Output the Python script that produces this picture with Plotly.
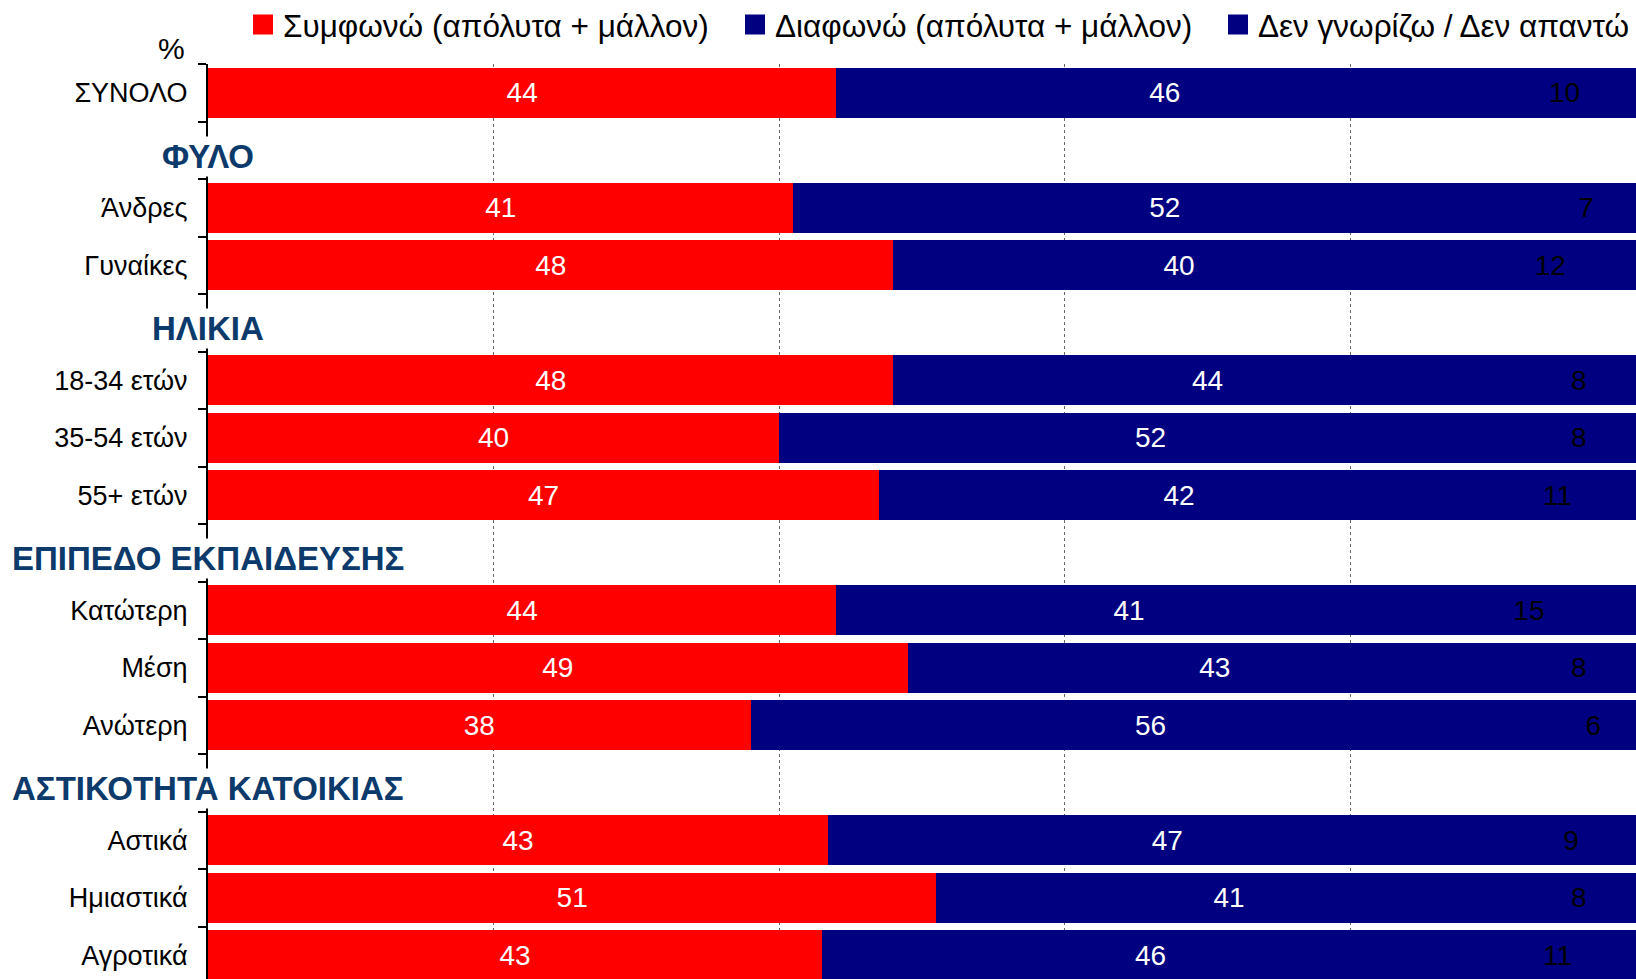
import plotly.graph_objects as go

# ---- data ----
categories = ["ΣΥΝΟΛΟ", " ", "Άνδρες", "Γυναίκες", "  ", "18-34 ετών", "35-54 ετών",
              "55+ ετών", "   ", "Κατώτερη", "Μέση", "Ανώτερη", "    ", "Αστικά",
              "Ημιαστικά", "Αγροτικά"]
rows = ["ΣΥΝΟΛΟ", "Άνδρες", "Γυναίκες", "18-34 ετών", "35-54 ετών", "55+ ετών",
        "Κατώτερη", "Μέση", "Ανώτερη", "Αστικά", "Ημιαστικά", "Αγροτικά"]
agree = [44, 41, 48, 48, 40, 47, 44, 49, 38, 43, 51, 43]
disagree = [46, 52, 40, 44, 52, 42, 41, 43, 56, 47, 41, 46]
dont_know = [10, 7, 12, 8, 8, 11, 15, 8, 6, 9, 8, 11]
series_names = ["Συμφωνώ (απόλυτα + μάλλον)", "Διαφωνώ (απόλυτα + μάλλον)",
                "Δεν γνωρίζω / Δεν απαντώ"]
group_headers = {" ": "ΦΥΛΟ", "  ": "ΗΛΙΚΙΑ", "   ": "ΕΠΙΠΕΔΟ ΕΚΠΑΙΔΕΥΣΗΣ",
                 "    ": "ΑΣΤΙΚΟΤΗΤΑ ΚΑΤΟΙΚΙΑΣ"}

RED = "#FF0000"
NAVY = "#000080"
HEADER = "#0B3A6B"
FONT = "Liberation Sans, Arial, sans-serif"

W, H = 1636, 979
ML, MT = 208, 64
PW, PH = W - ML, H - MT

def px_x(px):
    return (px - ML) / PW

def px_y(py):
    return 1 + (MT - py) / PH

fig = go.Figure()
series = [(agree, RED, "white"), (disagree, NAVY, "white"), (dont_know, NAVY, "black")]
for (vals, col, tcol), name in zip(series, series_names):
    fig.add_trace(go.Bar(
        y=rows, x=vals, orientation="h", name=name,
        marker=dict(color=col, line=dict(width=0)),
        text=[str(v) for v in vals], textposition="inside",
        insidetextanchor="middle", textangle=0, constraintext="none",
        textfont=dict(color=tcol, size=28, family=FONT),
        showlegend=False, hoverinfo="skip",
    ))

# legend entries (one legend each, so the row never wraps)
legend_ids = ["legend", "legend2", "legend3"]
legend_px = [243, 735, 1218]
for name, col, lid in zip(series_names, [RED, NAVY, NAVY], legend_ids):
    fig.add_trace(go.Scatter(
        x=[None], y=[None], mode="markers", name=name, legend=lid,
        marker=dict(symbol="square", size=16, color=col, line=dict(color=col, width=4)),
        showlegend=True,
    ))

legend_common = dict(orientation="h", yanchor="middle", xanchor="left",
                     font=dict(size=31.5, family=FONT, color="black"),
                     bgcolor="rgba(0,0,0,0)", borderwidth=0, itemclick=False)
layout_legends = {}
for lid, lx in zip(legend_ids, legend_px):
    layout_legends[lid] = dict(x=px_x(lx), y=px_y(24.5), **legend_common)

annotations = [dict(text="%", xref="paper", yref="paper", x=px_x(187), y=px_y(49),
                    xanchor="right", yanchor="middle", showarrow=False,
                    font=dict(size=30, family=FONT, color="black"))]
for key, label in group_headers.items():
    annotations.append(dict(text="<b>%s</b>" % label, xref="x", yref="y",
                            x=0, y=categories.index(key), yshift=-6,
                            xanchor="center", yanchor="middle", showarrow=False,
                            bgcolor="white", borderpad=1,
                            font=dict(size=33, family=FONT, color=HEADER)))

n = len(categories)
fig.update_layout(
    width=W, height=H,
    barmode="stack", barnorm="percent", bargap=0.13,
    margin=dict(l=ML, r=0, t=MT, b=0, pad=0, autoexpand=False),
    plot_bgcolor="white", paper_bgcolor="white",
    font=dict(family=FONT, color="black"),
    annotations=annotations,
    **layout_legends,
)
fig.update_xaxes(range=[0, 100], dtick=20, showgrid=True, gridcolor="#666666",
                 griddash="dot", gridwidth=1, showticklabels=False, ticks="",
                 zeroline=False, showline=False, fixedrange=True)
fig.update_yaxes(type="category", categoryorder="array", categoryarray=categories,
                 range=[n - 0.5 - 5 / 57.5, -0.5], tickson="boundaries",
                 ticks="outside", ticklen=8, tickwidth=2, tickcolor="black",
                 showline=True, linecolor="black", linewidth=2, showgrid=False,
                 tickfont=dict(size=27, family=FONT, color="black"),
                 ticklabelstandoff=13, fixedrange=True)

fig.write_html("out.html", config={"displayModeBar": False},
               post_script="document.body.style.margin='0';document.body.style.overflow='hidden';")
